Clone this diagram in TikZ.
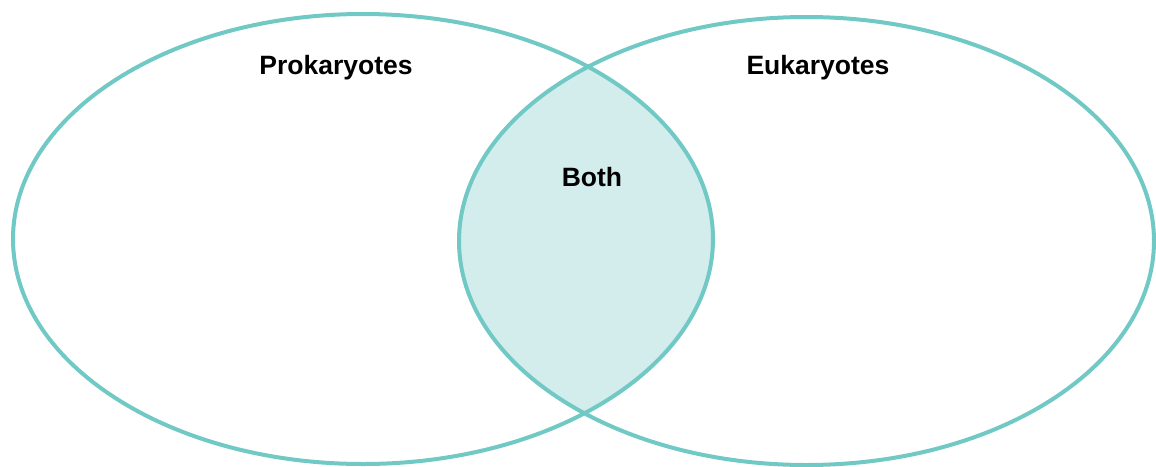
\documentclass[tikz,border=0pt]{standalone}
\usepackage{fontspec}
\setmainfont{Liberation Sans}
\definecolor{ringc}{RGB}{112,201,196}
\definecolor{lensc}{RGB}{211,236,236}
\begin{document}
\begin{tikzpicture}[x=1pt,y=-1pt,
  ring/.style={draw=ringc,line width=4pt},
  lbl/.style={font=\fontsize{26.5}{30}\selectfont\bfseries,text=black,inner sep=0pt}]
\useasboundingbox (0,0) rectangle (1156,466);
\begin{scope}
  \clip (363,239) ellipse [x radius=350, y radius=225];
  \fill[lensc] (806.5,241) ellipse [x radius=347.5, y radius=224];
\end{scope}
\draw[ring] (363,239) ellipse [x radius=350, y radius=225];
\draw[ring] (806.5,241) ellipse [x radius=347.5, y radius=224];
\node[lbl] (pro) at (336,68) {Prokaryotes};
\node[lbl] (euk) at (818,68) {Eukaryotes};
\node[lbl] (both) at (592,177) {Both};
\end{tikzpicture}
\end{document}
